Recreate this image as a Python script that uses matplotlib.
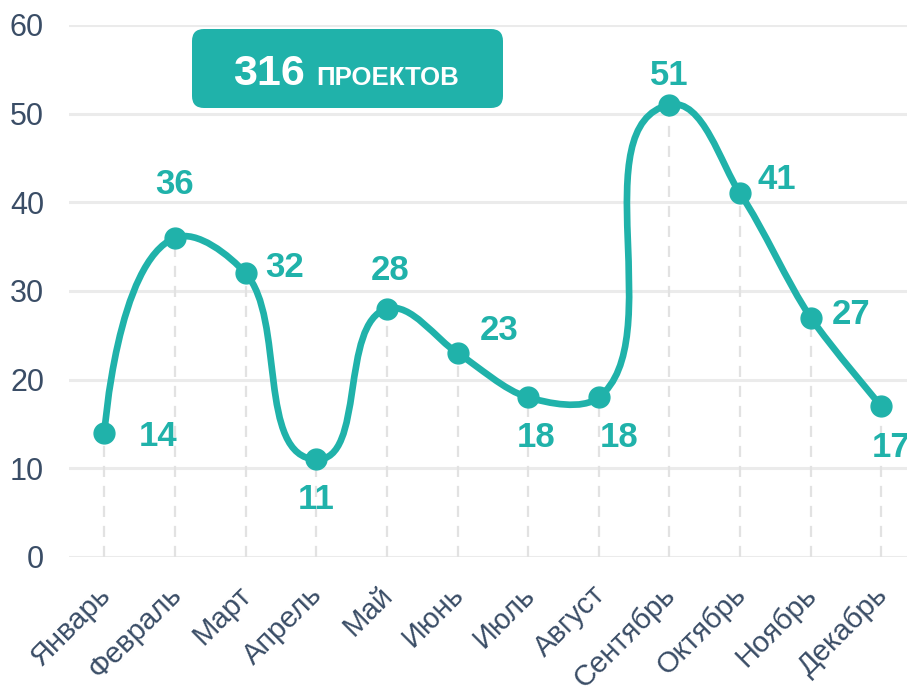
import matplotlib
matplotlib.use('Agg')
import matplotlib.pyplot as plt
import numpy as np
from matplotlib.path import Path
from matplotlib.patches import PathPatch, FancyBboxPatch
from matplotlib.transforms import ScaledTranslation, IdentityTransform

plt.rcParams['font.family'] = ['Liberation Sans', 'DejaVu Sans']

# ---- data ----
months = ['Январь', 'Февраль', 'Март', 'Апрель', 'Май', 'Июнь',
          'Июль', 'Август', 'Сентябрь', 'Октябрь', 'Ноябрь', 'Декабрь']
values = [14, 36, 32, 11, 28, 23, 18, 18, 51, 41, 27, 17]
total_value = '316'
total_label = 'ПРОЕКТОВ'
yticks = [0, 10, 20, 30, 40, 50, 60]

# label offsets in pixels (dx right, dy down)
label_offsets = [(54, 4), (0, -53), (39, -6), (0, 40), (3, -38), (42, -23),
                 (8, 40), (20, 40), (0, -29), (37, -14), (40, -3), (10, 41)]

TEAL = '#20B2AA'
TXT = '#3a4d66'
W, H = 907, 687

fig = plt.figure(figsize=(W / 100, H / 100), dpi=100)
ax = fig.add_axes([69 / W, 130 / H, 847.7 / W, 532 / H])
x = np.arange(len(months))
ax.set_xlim(-0.5, 11.5)
ax.set_ylim(0, 60)

for s in ax.spines.values():
    s.set_visible(False)
ax.set_yticks(yticks)
ax.grid(axis='y', color='#ebebeb', lw=2.2, zorder=0)
ax.set_axisbelow(True)
ax.tick_params(axis='y', length=0, pad=18, labelsize=22, labelcolor=TXT)
ax.tick_params(axis='x', length=0, pad=17, labelsize=21, labelcolor=TXT)
ax.set_xticks(x)
ax.set_xticklabels(months, rotation=45, ha='right', va='top', rotation_mode='anchor')
for lab in ax.get_xticklabels():
    lab.set_transform(lab.get_transform() + ScaledTranslation(-8 / 100, 0, fig.dpi_scale_trans))

# drop lines
ax.vlines(x, 0, values, colors='#e2e2e2', lw=1.6, linestyles=(0, (5, 4)), zorder=1)

# smooth curve: tangent = bisector of adjacent segments, handle = k * chord (pixel space)
def smooth_path(px, k=0.3):
    n = len(px)
    tang = np.zeros_like(px)
    for i in range(1, n - 1):
        u0 = px[i] - px[i - 1]
        u1 = px[i + 1] - px[i]
        t = u0 / np.hypot(*u0) + u1 / np.hypot(*u1)
        tang[i] = t / np.hypot(*t)
    verts = [px[0]]
    codes = [Path.MOVETO]
    for i in range(n - 1):
        L = np.hypot(*(px[i + 1] - px[i]))
        verts += [px[i] + tang[i] * k * L, px[i + 1] - tang[i + 1] * k * L, px[i + 1]]
        codes += [Path.CURVE4] * 3
    return np.array(verts), codes

pts_px = ax.transData.transform(np.column_stack([x, values]))
verts_px, codes = smooth_path(pts_px, 0.3)
verts_data = ax.transData.inverted().transform(verts_px)
ax.add_patch(PathPatch(Path(verts_data, codes), fill=False, edgecolor=TEAL,
                       lw=4.8, capstyle='round', joinstyle='round', zorder=3))
ax.plot(x, values, 'o', color=TEAL, ms=15, zorder=4, clip_on=False)

for xi, v, (dx, dy) in zip(x, values, label_offsets):
    ax.annotate(str(v), (xi, v), xytext=(dx, -dy), textcoords='offset pixels',
                ha='center', va='center', fontsize=25, fontweight='bold',
                color=TEAL, zorder=5, annotation_clip=False)

# total box
box = FancyBboxPatch((192, H - 108), 311, 79, boxstyle='round,pad=0,rounding_size=12',
                     transform=IdentityTransform(), facecolor=TEAL, edgecolor='none')
fig.patches.append(box)
fig.text(305 / W, (H - 85) / H, total_value, ha='right', va='baseline',
         fontsize=31, fontweight='bold', color='white')
fig.text(316 / W, (H - 85) / H, total_label, ha='left', va='baseline',
         fontsize=18.5, fontweight='bold', color='white')

fig.savefig('out.png', dpi=100)
